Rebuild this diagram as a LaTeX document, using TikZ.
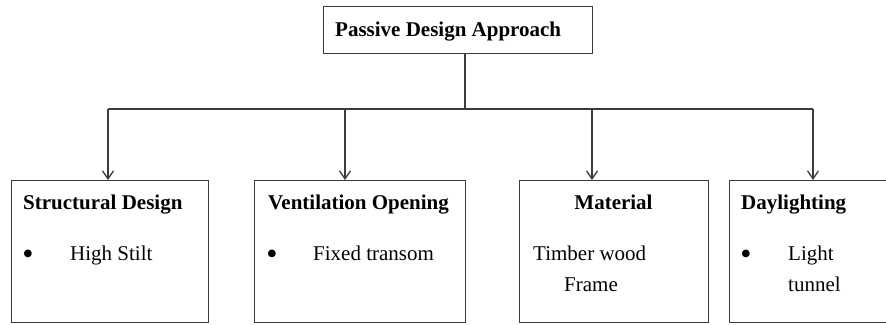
\documentclass[tikz,border=0pt]{standalone}
\usepackage{fontspec}
\setmainfont{Liberation Serif}
\usetikzlibrary{arrows.meta}
\definecolor{linec}{HTML}{3C3C3C}
\tikzset{
  box/.style={draw=linec, line width=1.3pt, anchor=north west, inner sep=0pt, rectangle},
  conn/.style={draw=linec, line width=1.3pt},
  arr/.style={conn, -{Straight Barb[length=8pt,width=11pt,line width=1.3pt]}},
  hd/.style={inner sep=0pt, anchor=base west, font=\fontsize{21}{24}\selectfont\bfseries},
  tx/.style={inner sep=0pt, anchor=base west, font=\fontsize{21}{24}\selectfont},
  bul/.style={inner sep=0pt, anchor=center, font=\fontsize{32}{34}\selectfont},
}
\begin{document}
\begin{tikzpicture}[x=1pt,y=-1pt]
\useasboundingbox (0,0) rectangle (886,324);
% boxes
\node[box, minimum width=269pt, minimum height=47pt] (top) at (323,6) {};
\node[box, minimum width=197pt, minimum height=142pt] (b1) at (11,180) {};
\node[box, minimum width=211pt, minimum height=142pt] (b2) at (254,180) {};
\node[box, minimum width=189pt, minimum height=142pt] (b3) at (519,180) {};
\node[box, minimum width=175pt, minimum height=142pt] (b4) at (729,180) {};
% texts
\node[hd] (ttop) at (335,36) {Passive Design Approach};
\node[hd] (h1) at (23,209) {Structural Design};
\node[bul] (u1) at (28,257) {\textbullet};
\node[tx] (t1) at (70,260) {High Stilt};
\node[hd] (h2) at (268,209) {Ventilation Opening};
\node[bul] (u2) at (272,257) {\textbullet};
\node[tx] (t2) at (313,260) {Fixed transom};
\node[hd, anchor=base] (h3) at (613.5,209) {Material};
\node[tx] (t3a) at (533,260) {Timber wood};
\node[tx] (t3b) at (564,291) {Frame};
\node[hd] (h4) at (741,209) {Daylighting};
\node[bul] (u4) at (746,257) {\textbullet};
\node[tx] (t4a) at (788,260) {Light};
\node[tx] (t4b) at (788,291) {tunnel};
% connectors
\coordinate (hub) at (465,109);
\coordinate (j1) at (108,109);
\coordinate (j2) at (345,109);
\coordinate (j3) at (592,109);
\coordinate (j4) at (813,109);
\draw[conn] (top.south -| hub) -- (hub);
\draw[conn] (j1) -- (j4);
\draw[arr] (j1) -- (j1 |- b1.north);
\draw[arr] (j2) -- (j2 |- b2.north);
\draw[arr] (j3) -- (j3 |- b3.north);
\draw[arr] (j4) -- (j4 |- b4.north);
\end{tikzpicture}
\end{document}
